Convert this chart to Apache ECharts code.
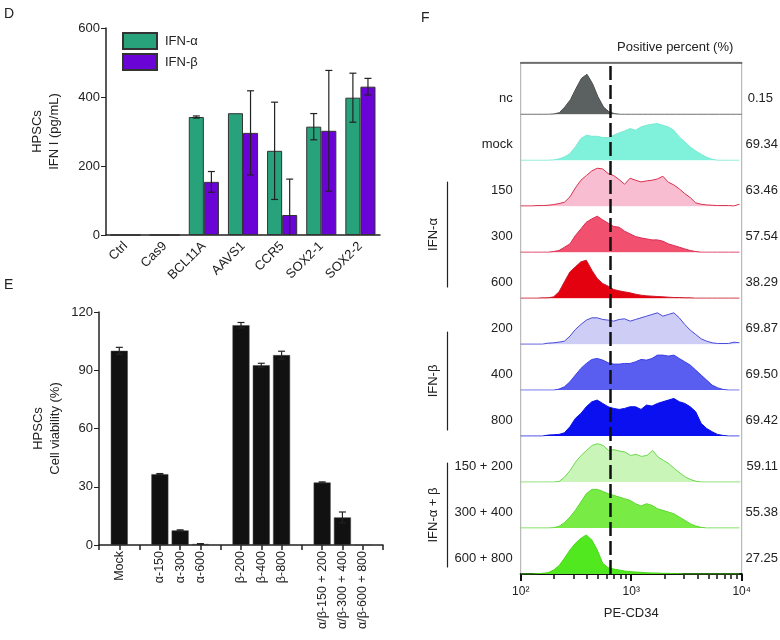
<!DOCTYPE html>
<html>
<head>
<meta charset="utf-8">
<script src="https://cdn.jsdelivr.net/npm/echarts@6/dist/echarts.min.js"></script>
<style>
html, body { margin: 0; padding: 0; background: #fff; }
#main { width: 780px; height: 640px; }
</style>
</head>
<body>
<div id="main"></div>
<script>
// ---- panel D : IFN I secretion
var genes = ['Ctrl', 'Cas9', 'BCL11A', 'AAVS1', 'CCR5', 'SOX2-1', 'SOX2-2'];
var ifnA = [0, 0, 342, 353, 244, 314, 398];
var ifnAErr = [0, 0, 3, 0, 141, 38, 71];
var ifnB = [0, 0, 154, 296, 58, 302, 430];
var ifnBErr = [0, 0, 30, 122, 104, 175, 24];

// ---- panel E : cell viability (blank slots are the gaps between groups)
var treatments = ['', 'Mock', '', 'α-150', 'α-300', 'α-600', '', 'β-200', 'β-400', 'β-800', '',
  'α/β-150 + 200', 'α/β-300 + 400', 'α/β-600 + 800', ''];
var viability = [null, 100, null, 36.5, 7.5, 0.5, null, 113.2, 92.6, 97.8, null, 32.2, 14.2, 0, null];
var viabilityErr = [null, 1.8, null, 0.3, 0.3, 0.2, null, 1.4, 1, 2, null, 0.3, 2.8, 0, null];

// ---- panel F : PE-CD34 histograms
var cd34Bins = [100, 112, 126, 141, 158, 178, 200, 224, 251, 282, 316, 355, 398, 447, 501, 562, 631, 708,
  794, 891, 1000, 1122, 1259, 1413, 1585, 1778, 1995, 2239, 2512, 2818, 3162, 3548, 3981, 4467, 5012,
  5623, 6310, 7079, 7943, 8913, 10000];
var gateCD34 = 645;
var majorTicks = [100, 1000, 10000];
var minorTicks = [200, 300, 400, 500, 600, 700, 800, 900, 2000, 3000, 4000, 5000, 6000, 7000, 8000, 9000];
var rowNames = ['nc', 'mock', '150', '300', '600', '200', '400', '800', '150 + 200', '300 + 400', '600 + 800'];
var positive = ['0.15', '69.34', '63.46', '57.54', '38.29', '69.87', '69.50', '69.42', '59.11', '55.38', '27.25'];
var histNc = [0,0,0,0,0,0,1,5,22,44,77,108,120,92,52,22,7,2,0,0,0,0,0,0,0,0,0,0,0,0,0,0,0,0,0,0,0,0,0,0,0];
var histMock = [0,0,0,0,0,0,1,4,10,20,40,65,75,72,72,68,68,75,82,88,95,90,100,105,108,110,105,100,90,70,55,40,28,18,9,3,0,0,0,0,0];
var hist150 = [1,1,1,2,2,3,5,8,12,28,55,78,92,106,114,112,98,92,80,66,84,78,73,76,78,82,90,72,64,52,38,26,10,6,4,3,2,2,2,1,6];
var hist300 = [0,0,0,0,0,0,2,5,15,25,50,70,90,100,108,97,87,77,75,63,55,47,43,40,37,37,33,25,20,15,10,5,2,0,0,0,0,0,0,0,0];
var hist600 = [0,0,0,0,1,1,4,19,49,79,94,109,114,84,59,44,36,26,22,19,16,12,9,7,6,5,4,3,2,2,1,1,0,0,0,0,0,0,0,0,0];
var hist200 = [0,0,0,0,0,3,4,6,9,24,44,59,72,79,79,74,72,69,74,76,69,74,79,84,89,94,84,89,94,79,59,42,29,16,9,4,2,2,2,6,4];
var hist400 = [0,0,0,0,0,0,0,3,10,25,45,65,80,92,95,90,82,78,78,80,80,85,92,90,95,105,105,102,105,95,85,75,60,45,30,15,7,2,0,0,0];
var hist800 = [0,0,0,0,0,3,4,5,10,28,53,68,88,103,108,98,88,83,80,83,88,88,80,93,90,98,103,108,113,103,98,88,73,38,23,13,5,2,0,0,0];
var histAB1 = [0,0,0,0,0,0,0,2,15,35,60,80,95,110,115,110,95,97,93,90,80,83,77,80,95,75,65,55,40,27,15,7,2,0,0,0,0,0,0,0,0];
var histAB2 = [0,0,0,0,0,0,1,5,16,33,53,78,103,116,116,110,103,98,93,88,83,73,66,73,68,58,53,48,43,33,23,13,6,2,0,0,0,0,0,0,0];
var histAB3 = [0,0,0,1,2,4,12,25,47,72,92,107,117,102,72,32,19,15,12,9,7,6,5,4,3,3,2,2,1,1,0,0,0,0,0,0,0,0,0,0,0];
var rowHists = [histNc, histMock, hist150, hist300, hist600, hist200, hist400, hist800, histAB1, histAB2, histAB3];
var groupNames = ['IFN-α', 'IFN-β', 'IFN-α + β'];

var fills = ['#5b6160', '#80f2dc', '#f8bdd1', '#f2506f', '#e3000f', '#cdcdf6', '#5a5ef0', '#0a10f0', '#c9f5b9', '#78ec45', '#52e81f'];
var strokes = ['#4a4f4e', '#78e8d4', '#d8304e', '#d92a50', '#cc1a2a', '#4a4ad8', '#3c40e6', '#0a10e0', '#6ad84a', '#5fd635', '#4ad81a'];
var bracketSpans = [[182, 287], [332, 430], [463, 567]];

var font = '"Liberation Sans", Arial, Helvetica, sans-serif';
var ink = '#222';
var chart = echarts.init(document.getElementById('main'));

var grids = [], xAxes = [], yAxes = [], series = [];

function errorSeries(vals, errs, xi, yi, shift, capHalf) {
  return {
    type: 'custom', xAxisIndex: xi, yAxisIndex: yi, clip: true, z: 5, silent: true,
    data: vals.map(function (v, k) { return [k, v, errs[k]]; }),
    renderItem: function (params, api) {
      var k = api.value(0), v = api.value(1), e = api.value(2);
      if (isNaN(v) || !e) return;
      var dx = shift * api.size([1, 0])[0];
      var top = api.coord([k, v + e]), bot = api.coord([k, v - e]);
      var x = top[0] + dx;
      var st = { stroke: ink, lineWidth: 1.2 };
      return { type: 'group', children: [
        { type: 'line', shape: { x1: x, y1: top[1], x2: x, y2: bot[1] }, style: st },
        { type: 'line', shape: { x1: x - capHalf, y1: top[1], x2: x + capHalf, y2: top[1] }, style: st },
        { type: 'line', shape: { x1: x - capHalf, y1: bot[1], x2: x + capHalf, y2: bot[1] }, style: st }
      ] };
    }
  };
}

// D
grids.push({ left: 106, top: 28, width: 274, height: 207 });
xAxes.push({ gridIndex: 0, type: 'category', data: genes,
  axisLine: { lineStyle: { color: ink, width: 1.5 } },
  axisTick: { length: 5, lineStyle: { width: 1.5 } },
  axisLabel: { rotate: 45, fontSize: 13, color: ink, margin: 9, interval: 0, fontFamily: font } });
xAxes.push({ gridIndex: 0, type: 'category', data: genes, position: 'bottom',
  axisLine: { show: false }, axisLabel: { show: false },
  axisTick: { alignWithLabel: true, length: 5, lineStyle: { color: ink, width: 1.5 } } });
yAxes.push({ gridIndex: 0, type: 'value', min: 0, max: 600, interval: 200,
  axisLine: { show: true, lineStyle: { color: ink, width: 1.5 } },
  axisTick: { show: true, length: 5 }, splitLine: { show: false },
  axisLabel: { fontSize: 13, color: ink, margin: 6, fontFamily: font },
  name: 'HPSCs\nIFN I (pg/mL)', nameLocation: 'middle', nameGap: 43,
  nameTextStyle: { fontSize: 13, color: ink, lineHeight: 17, fontFamily: font } });
series.push({ name: 'IFN-α', type: 'bar', xAxisIndex: 0, yAxisIndex: 0, data: ifnA,
  barGap: '0%', barCategoryGap: '23%',
  itemStyle: { color: '#27a27a', borderColor: '#333', borderWidth: 1 } });
series.push({ name: 'IFN-β', type: 'bar', xAxisIndex: 0, yAxisIndex: 0, data: ifnB,
  barGap: '0%', barCategoryGap: '23%',
  itemStyle: { color: '#6a04d6', borderColor: '#333', borderWidth: 1 } });
series.push(errorSeries(ifnA, ifnAErr, 0, 0, -0.1925, 3.5));
series.push(errorSeries(ifnB, ifnBErr, 0, 0, 0.1925, 3.5));

// E
grids.push({ left: 99, top: 312, width: 284, height: 233 });
xAxes.push({ gridIndex: 1, type: 'category', data: treatments, boundaryGap: false,
  axisLine: { lineStyle: { color: ink, width: 1.5 } },
  axisTick: { interval: 0, length: 5, lineStyle: { width: 1.5 } },
  axisLabel: { interval: 0, rotate: 90, fontSize: 12.5, color: ink, margin: 6, fontFamily: font } });
yAxes.push({ gridIndex: 1, type: 'value', min: 0, max: 120, interval: 30,
  axisLine: { show: true, lineStyle: { color: ink, width: 1.5 } },
  axisTick: { show: true, length: 5 }, splitLine: { show: false },
  axisLabel: { fontSize: 13, color: ink, margin: 6, fontFamily: font },
  name: 'HPSCs\nCell viability (%)', nameLocation: 'middle', nameGap: 35,
  nameTextStyle: { fontSize: 13, color: ink, lineHeight: 17, fontFamily: font } });
series.push({ type: 'bar', xAxisIndex: 2, yAxisIndex: 1, data: viability, barWidth: 17,
  itemStyle: { color: '#111', borderColor: '#444', borderWidth: 0.5 } });
series.push(errorSeries(viability, viabilityErr, 2, 1, 0, 3.5));

// F histogram rows
var rowTop = 68.3, rowStep = 45.97, rowH = 46;
rowNames.forEach(function (nm, i) {
  var g = grids.length;
  grids.push({ left: 520.7, width: 221, top: rowTop + i * rowStep, height: rowH });
  var xi = xAxes.length;
  xAxes.push({ gridIndex: g, type: 'value', min: 2, max: 4, show: false });
  var yi = yAxes.length;
  var nameStyle = { fontSize: 13, color: ink, fontFamily: font, verticalAlign: 'top', padding: [1, 0, 0, 0] };
  yAxes.push({ gridIndex: g, type: 'value', min: 0, max: 138,
    axisLine: { show: false }, axisTick: { show: false }, axisLabel: { show: false }, splitLine: { show: false },
    name: nm, nameLocation: 'middle', nameRotate: 0, nameGap: 8, nameTextStyle: nameStyle });
  yAxes.push({ gridIndex: g, type: 'value', min: 0, max: 138, position: 'right',
    axisLine: { show: false }, axisTick: { show: false }, axisLabel: { show: false }, splitLine: { show: false },
    name: positive[i], nameLocation: 'middle', nameRotate: 0, nameGap: 6, nameTextStyle: nameStyle });
  series.push({ type: 'line', xAxisIndex: xi, yAxisIndex: yi, symbol: 'none', silent: true,
    data: cd34Bins.map(function (v, k) { return [Math.log10(v), rowHists[i][k]]; }),
    lineStyle: { color: strokes[i], width: 1 },
    areaStyle: { color: fills[i], opacity: 1 } });
});

// F frame, axis and gate
var gF = grids.length;
grids.push({ left: 520.7, width: 221, top: 62.3, bottom: 66, show: true, borderColor: '#aaa', borderWidth: 1 });
var sup = { 2: '²', 3: '³', 4: '⁴' };
var xF = xAxes.length;
xAxes.push({ gridIndex: gF, type: 'value', min: 2, max: 4, position: 'bottom',
  axisLine: { lineStyle: { color: '#111', width: 2 } },
  axisTick: { length: 7, customValues: majorTicks.map(Math.log10), lineStyle: { width: 2 } },
  axisLabel: { customValues: majorTicks.map(Math.log10), fontSize: 12, color: ink, margin: 12, fontFamily: font,
    formatter: function (v) { return '10' + sup[Math.round(v)]; } },
  splitLine: { show: false },
  name: 'PE-CD34', nameLocation: 'middle', nameGap: 33,
  nameTextStyle: { fontSize: 13, color: ink, fontFamily: font } });
xAxes.push({ gridIndex: gF, type: 'value', min: 2, max: 4, position: 'bottom',
  axisLine: { show: false }, axisLabel: { show: false }, splitLine: { show: false },
  axisTick: { length: 5, customValues: minorTicks.map(Math.log10), lineStyle: { color: '#111', width: 1.5 } } });
xAxes.push({ gridIndex: gF, type: 'value', min: 2, max: 4, position: 'top',
  axisLine: { lineStyle: { color: '#555', width: 1.5 } },
  axisTick: { show: false }, axisLabel: { show: false }, splitLine: { show: false } });
var yF = yAxes.length;
yAxes.push({ gridIndex: gF, type: 'value', min: 0, max: 1, show: false });
series.push({ type: 'line', xAxisIndex: xF, yAxisIndex: yF, data: [[2, 0]], showSymbol: false, silent: true,
  lineStyle: { width: 0 },
  markLine: { silent: true, symbol: 'none', label: { show: false },
    lineStyle: { color: '#111', width: 2.5, type: [14, 5] },
    data: [{ xAxis: Math.log10(gateCD34) }] } });

// F treatment brackets
groupNames.forEach(function (nm, j) {
  var g = grids.length;
  var span = bracketSpans[j];
  grids.push({ left: 447, width: 10, top: span[0], height: span[1] - span[0] });
  xAxes.push({ gridIndex: g, type: 'value', show: false });
  yAxes.push({ gridIndex: g, type: 'value', min: 0, max: 1,
    axisLine: { show: true, lineStyle: { color: ink, width: 1.2 } },
    axisTick: { show: false }, axisLabel: { show: false }, splitLine: { show: false },
    name: nm, nameLocation: 'middle', nameGap: 7,
    nameTextStyle: { fontSize: 13, color: ink, fontFamily: font } });
});

function label(text, left, top, size) {
  return { text: text, left: left, top: top, padding: 0,
    textStyle: { fontSize: size, fontWeight: 'normal', color: ink, fontFamily: font } };
}

chart.setOption({
  animation: false,
  textStyle: { fontFamily: font },
  title: [
    label('D', 4, 7, 14),
    label('E', 4, 278, 14),
    label('F', 421, 11, 14),
    label('Positive percent (%)', 617, 41, 13)
  ],
  legend: { data: ['IFN-α', 'IFN-β'], left: 122, top: 32, orient: 'vertical', padding: 0,
    icon: 'rect', itemWidth: 34, itemHeight: 16, itemGap: 3,
    textStyle: { fontSize: 13, color: ink, fontFamily: font, padding: [0, 0, 0, 3] } },
  grid: grids,
  xAxis: xAxes,
  yAxis: yAxes,
  series: series
});
</script>
</body>
</html>
